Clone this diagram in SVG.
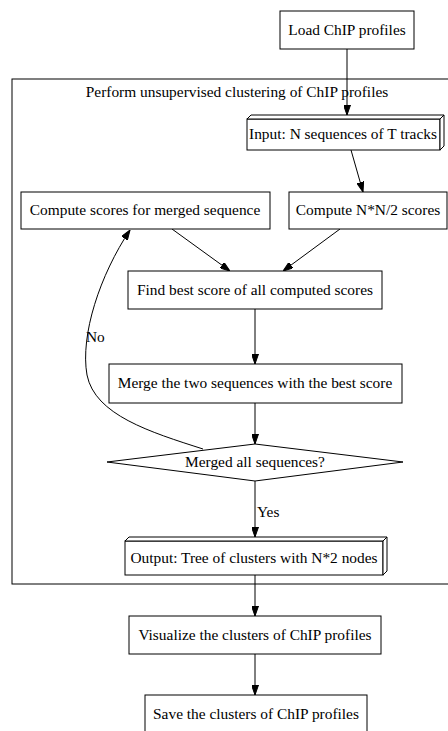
<svg xmlns="http://www.w3.org/2000/svg" width="448" height="731" viewBox="0 0 448 731">
  <style>
    .box { fill: #ffffff; stroke: #000000; stroke-width: 1; }
    .lbl { font-family: "Liberation Serif", "Times New Roman", serif; font-size: 15.4px; fill: #000000; }
    .mid { text-anchor: middle; }
    .edge { fill: none; stroke: #000000; stroke-width: 1; }
  </style>
  <defs>
    <marker id="arrow" markerWidth="10" markerHeight="7" refX="10" refY="3.5" orient="auto" markerUnits="userSpaceOnUse">
      <path d="M0,0 L10,3.5 L0,7 z" fill="#000000" stroke="#000000" stroke-width="1"/>
    </marker>
  </defs>
  <rect width="448" height="731" fill="#ffffff"/>

  <!-- clustering subgraph frame -->
  <g id="cluster_clustering">
    <rect x="12" y="79" width="440" height="505" fill="none" stroke="#000000" stroke-width="1"/>
    <text class="lbl mid" x="237" y="97">Perform unsupervised clustering of ChIP profiles</text>
  </g>

  <!-- connectors -->
  <g id="edges">
    <line class="edge" x1="347" y1="49" x2="347" y2="115" marker-end="url(#arrow)"/>
    <line class="edge" x1="351" y1="150" x2="363" y2="192" marker-end="url(#arrow)"/>
    <line class="edge" x1="172" y1="229" x2="230" y2="271" marker-end="url(#arrow)"/>
    <line class="edge" x1="340" y1="229" x2="283" y2="271" marker-end="url(#arrow)"/>
    <line class="edge" x1="255" y1="309" x2="255" y2="364" marker-end="url(#arrow)"/>
    <line class="edge" x1="255" y1="403" x2="255" y2="444" marker-end="url(#arrow)"/>
    <path class="edge" d="M203,449 C150,432 95,415 87,375 C80,335 100,275 130,230" marker-end="url(#arrow)"/>
    <text class="lbl" x="86" y="342">No</text>
    <line class="edge" x1="255" y1="481" x2="255" y2="537" marker-end="url(#arrow)"/>
    <text class="lbl" x="257" y="517">Yes</text>
    <line class="edge" x1="255" y1="575" x2="255" y2="616" marker-end="url(#arrow)"/>
    <line class="edge" x1="255" y1="654" x2="255" y2="695" marker-end="url(#arrow)"/>
  </g>

  <g id="load">
    <rect class="box" x="280" y="11" width="134" height="38"/>
    <text class="lbl mid" x="347" y="35">Load ChIP profiles</text>
  </g>

  <g id="input">
    <rect class="box" x="247" y="119" width="193" height="31"/>
    <polygon class="box" points="247,119 251,115 444,115 440,119"/>
    <polygon class="box" points="440,119 444,115 444,146 440,150"/>
    <text class="lbl mid" x="343" y="139">Input: N sequences of T tracks</text>
  </g>

  <g id="compute_merged">
    <rect class="box" x="21" y="192" width="249" height="37"/>
    <text class="lbl mid" x="145" y="215">Compute scores for merged sequence</text>
  </g>

  <g id="compute_all">
    <rect class="box" x="289" y="192" width="158" height="37"/>
    <text class="lbl mid" x="368" y="215">Compute N*N/2 scores</text>
  </g>

  <g id="find_best">
    <rect class="box" x="128" y="271" width="254" height="38"/>
    <text class="lbl mid" x="255" y="295">Find best score of all computed scores</text>
  </g>

  <g id="merge">
    <rect class="box" x="109" y="364" width="293" height="39"/>
    <text class="lbl mid" x="255" y="388">Merge the two sequences with the best score</text>
  </g>

  <g id="merged_all">
    <polygon class="box" points="255,444 403,462 255,481 107,462"/>
    <text class="lbl mid" x="255" y="467">Merged all sequences?</text>
  </g>

  <g id="output">
    <rect class="box" x="125" y="541" width="258" height="34"/>
    <polygon class="box" points="125,541 129,537 387,537 383,541"/>
    <polygon class="box" points="383,541 387,537 387,571 383,575"/>
    <text class="lbl mid" x="254" y="563">Output: Tree of clusters with N*2 nodes</text>
  </g>

  <g id="visualize">
    <rect class="box" x="129" y="616" width="252" height="38"/>
    <text class="lbl mid" x="255" y="640">Visualize the clusters of ChIP profiles</text>
  </g>

  <g id="save">
    <rect class="box" x="145" y="695" width="222" height="38"/>
    <text class="lbl mid" x="256" y="719">Save the clusters of ChIP profiles</text>
  </g>
</svg>
